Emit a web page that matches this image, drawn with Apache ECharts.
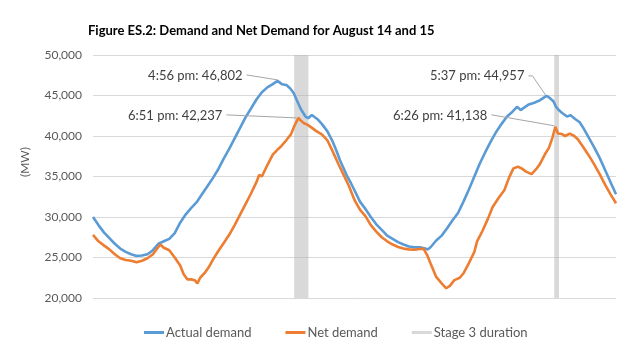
<!DOCTYPE html>
<html>
<head>
<meta charset="utf-8">
<script src="https://cdn.jsdelivr.net/npm/echarts@6/dist/echarts.min.js"></script>
<style>
  html, body { margin: 0; padding: 0; background: #ffffff; }
  #chart { width: 642px; height: 346px; }
</style>
</head>
<body>
<div id="chart"></div>
<script>
// Actual demand, MW (day + time of reading)
const actualTimes = [
  '14 00:00','14 00:30','14 01:00','14 01:30','14 02:00','14 02:30','14 03:00','14 03:30',
  '14 04:00','14 04:30','14 05:00','14 05:30','14 06:00','14 06:30','14 07:00','14 07:30',
  '14 08:00','14 08:30','14 09:00','14 09:30','14 10:00','14 10:30','14 11:00','14 11:30',
  '14 12:00','14 12:30','14 13:00','14 13:30','14 14:00','14 14:30','14 15:00','14 15:30',
  '14 16:00','14 16:30','14 16:56','14 17:20','14 17:45','14 18:05','14 18:25','14 18:45',
  '14 19:05','14 19:30','14 19:45','14 20:05','14 20:40','14 21:00','14 21:30','14 22:00',
  '14 22:20','14 22:40','14 23:00','14 23:20','14 23:40',
  '15 00:00','15 00:30','15 01:00','15 01:30','15 02:00','15 02:30','15 03:00','15 03:30',
  '15 04:00','15 04:30','15 05:00','15 05:30','15 06:00','15 06:30','15 06:45','15 07:00',
  '15 07:30','15 08:00','15 08:30','15 09:00','15 09:30','15 10:00','15 10:30','15 11:00',
  '15 11:30','15 12:00','15 12:30','15 13:00','15 13:30','15 14:00','15 14:30','15 14:55',
  '15 15:15','15 15:40','15 16:00','15 16:30','15 17:00','15 17:37','15 17:55','15 18:15',
  '15 18:30','15 18:45','15 19:00','15 19:30','15 19:50','15 20:15','15 20:40','15 21:00',
  '15 21:30','15 22:00','15 22:30','15 23:00','15 23:30','16 00:00'
];
const actualDemand = [
  30000,29000,28100,27400,26700,26100,25700,25400,
  25200,25250,25400,25900,26700,27000,27300,28000,
  29300,30300,31100,31800,32800,33800,34800,35900,
  37200,38400,39700,41000,42300,43400,44500,45400,
  46000,46400,46802,46400,46300,45900,45300,44300,
  43300,42400,42200,42600,42000,41500,40600,39300,
  38200,37000,36000,35000,34200,
  33300,31900,31000,30000,29100,28400,27700,27300,
  26900,26600,26350,26250,26250,26100,26000,26300,
  27100,27700,28600,29600,30500,31900,33400,35000,
  36600,38000,39300,40500,41500,42400,43000,43600,
  43200,43600,43900,44100,44400,44957,44700,44300,
  43600,43200,42900,42400,42550,42100,41700,41000,
  39800,38600,37300,35800,34300,32800
];

// Net demand, MW
const netTimes = [
  '14 00:00','14 00:30','14 01:00','14 01:30','14 02:00','14 02:30','14 03:00','14 03:30',
  '14 04:00','14 04:30','14 05:00','14 05:30','14 06:00','14 06:10','14 06:30','14 07:00',
  '14 07:30','14 08:00','14 08:20','14 08:40','14 09:00','14 09:20','14 09:35','14 09:50',
  '14 10:15','14 10:40','14 11:00','14 11:30','14 12:00','14 12:30','14 13:00','14 13:30',
  '14 14:00','14 14:30','14 15:00','14 15:15','14 15:30','14 16:00','14 16:30','14 17:00',
  '14 17:15','14 17:45','14 18:10','14 18:30','14 18:51','14 19:05','14 19:20','14 19:40',
  '14 20:00','14 20:30','14 21:00','14 21:30','14 22:00','14 22:30','14 23:00','14 23:30',
  '15 00:00','15 00:30','15 01:00','15 01:30','15 02:00','15 02:30','15 03:00','15 03:30',
  '15 04:00','15 04:30','15 05:00','15 05:30','15 06:00','15 06:20','15 06:40','15 07:00',
  '15 07:30','15 08:00','15 08:25','15 08:45','15 09:10','15 09:40','15 10:00','15 10:30',
  '15 11:00','15 11:15','15 11:45','15 12:15','15 12:40','15 13:15','15 13:45','15 14:10',
  '15 14:35','15 15:00','15 15:20','15 15:45','15 16:15','15 16:40','15 17:00','15 17:30',
  '15 17:50','15 18:10','15 18:26','15 18:40','15 19:00','15 19:20','15 19:45','15 20:10',
  '15 20:30','15 21:00','15 21:30','15 22:00','15 22:30','15 23:00','15 23:30','16 00:00'
];
const netDemand = [
  27800,27000,26500,26000,25400,24900,24700,24600,
  24400,24600,24900,25400,26300,26600,26200,25900,
  25000,24000,22900,22300,22300,22200,21800,22500,
  23100,23900,24700,25800,26800,27800,29000,30300,
  31600,32900,34300,35200,35000,36400,37700,38400,
  38700,39500,40200,41300,42237,41900,41600,41400,
  41100,40600,40200,39500,38100,36600,35200,33800,
  32100,30900,30100,29000,28200,27500,27000,26600,
  26300,26100,26000,25950,26050,26100,25300,24200,
  22600,21800,21200,21500,22200,22500,23050,24300,
  25700,27000,28300,29800,31200,32400,33300,34800,
  36000,36200,36000,35600,35300,35900,36500,37800,
  38500,39800,41138,40300,40250,40000,40300,40000,
  39600,38600,37600,36500,35300,34000,32800,31700
];

// Stage 3 emergency windows
const stageStart = ['14 18:28', '15 18:20'];
const stageEnd   = ['14 19:46', '15 18:46'];

// Annotated peaks
const peakSeries = ['actual', 'net', 'actual', 'net'];
const peakTimes  = ['14 16:56', '14 18:51', '15 17:37', '15 18:26'];
const peakValues = [46802, 42237, 44957, 41138];
const peakLabels = ['4:56 pm', '6:51 pm', '5:37 pm', '6:26 pm'];

const yTicks = { min: 20000, max: 50000, step: 5000 };

const FONT = 'Lato, "Noto Sans", sans-serif';
const toTs = s => new Date('2020-08-' + s.slice(0, 2) + 'T' + s.slice(3) + ':00').getTime();
const fmt = v => v.toLocaleString('en-US');

const actualData = actualTimes.map((t, i) => [toTs(t), actualDemand[i]]);
const netData = netTimes.map((t, i) => [toTs(t), netDemand[i]]);

const chart = echarts.init(document.getElementById('chart'), null, { renderer: 'canvas' });

chart.setOption({
  animation: false,
  backgroundColor: '#ffffff',
  title: {
    text: 'Figure ES.2: Demand and Net Demand for August 14 and 15',
    left: 83, top: 19,
    textStyle: { fontFamily: FONT, fontSize: 13, fontWeight: 'bold', color: '#000000' }
  },
  grid: { left: 93, right: 26, top: 55, bottom: 48, containLabel: false },
  xAxis: {
    type: 'time',
    min: toTs('14 00:00'), max: toTs('16 00:00'),
    axisLine: { show: false }, axisTick: { show: false },
    axisLabel: { show: false }, splitLine: { show: false }
  },
  yAxis: {
    type: 'value',
    min: yTicks.min, max: yTicks.max, interval: yTicks.step,
    axisLine: { show: false }, axisTick: { show: false },
    axisLabel: {
      margin: 11, color: '#595959', fontFamily: FONT, fontSize: 12,
      formatter: v => fmt(v)
    },
    splitLine: { lineStyle: { color: '#d9d9d9', width: 1 } }
  },
  legend: {
    left: 139, top: 321,
    icon: 'rect', itemWidth: 20, itemHeight: 3, itemGap: 34,
    textStyle: { fontFamily: FONT, fontSize: 13, color: '#595959', padding: [0, 0, 0, -3] },
    data: ['Actual demand', 'Net demand', 'Stage 3 duration']
  },
  series: [
    {
      name: 'Actual demand', type: 'line', data: actualData,
      showSymbol: false, symbol: 'none', z: 2,
      color: '#5b9bd5',
      lineStyle: { color: '#5b9bd5', width: 2.6 }
    },
    {
      name: 'Net demand', type: 'line', data: netData,
      showSymbol: false, symbol: 'none', z: 3,
      color: '#ed7d31',
      lineStyle: { color: '#ed7d31', width: 2.6 }
    },
    {
      name: 'Stage 3 duration', type: 'line', data: [],
      z: 5, color: '#d9d9d9',
      lineStyle: { color: '#d9d9d9' },
      markArea: {
        silent: true,
        itemStyle: { color: 'rgba(179,179,179,0.5)' },
        data: stageStart.map((s, i) => [{ xAxis: toTs(s) }, { xAxis: toTs(stageEnd[i]) }])
      }
    }
  ]
});

// Peak callouts: text offset from the point with a thin leader line
const calloutLayout = [
  { tx: -35, ty: -5,  path: [[-31, -6], [0, -1]] },
  { tx: -76, ty: -2,  path: [[-72, -3], [-2, 0]] },
  { tx: -22, ty: -20, path: [[-18, -20], [-14, -20], [-1, -1]] },
  { tx: -68, ty: -11, path: [[-64, -12], [-1, -1]] }
];

const graphics = [];
peakTimes.forEach((t, i) => {
  const p = chart.convertToPixel({ xAxisIndex: 0, yAxisIndex: 0 }, [toTs(t), peakValues[i]]);
  const L = calloutLayout[i];
  graphics.push({
    type: 'text', x: p[0] + L.tx, y: p[1] + L.ty, z: 10,
    style: {
      text: peakLabels[i] + ': ' + fmt(peakValues[i]),
      align: 'right', verticalAlign: 'middle',
      fill: '#404040', font: '13px ' + FONT
    }
  });
  graphics.push({
    type: 'polyline', z: 10,
    shape: { points: L.path.map(d => [p[0] + d[0], p[1] + d[1]]) },
    style: { stroke: '#a6a6a6', lineWidth: 1, fill: null }
  });
});
graphics.push({
  type: 'text', x: 25, y: 162, rotation: Math.PI / 2, z: 10,
  style: {
    text: '(MW)', align: 'center', verticalAlign: 'middle',
    fill: '#595959', font: '12px ' + FONT
  }
});
chart.setOption({ graphic: graphics });
</script>
</body>
</html>
